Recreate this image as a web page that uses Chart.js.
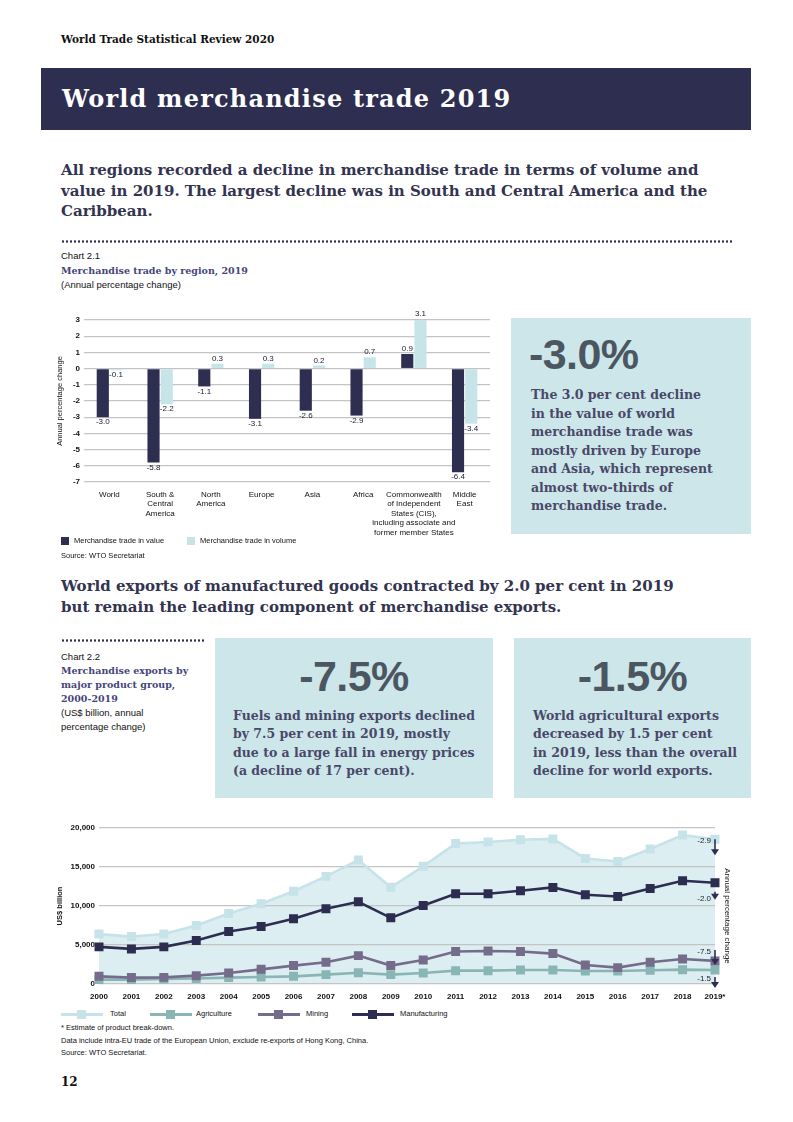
<!DOCTYPE html>
<html>
<head>
<meta charset="utf-8">
<script src="https://cdn.jsdelivr.net/npm/chart.js@4.4.1/dist/chart.umd.min.js"></script>
<style>
  body { margin: 0; width: 793px; height: 1122px; position: relative; background: #fff;
         font-family: "Liberation Sans", Arial, sans-serif; color: #111; overflow: hidden; }
  .abs { position: absolute; white-space: nowrap; }
  .slab { font-family: "DejaVu Serif", serif; font-weight: bold; }
  .dots { position: absolute; height: 3px;
          background-image: radial-gradient(circle, #2d2e50 1px, transparent 1.3px);
          background-size: 4px 3px; }
  .box { position: absolute; background: #cce6ea; }
  .big { position: absolute; font-family: "Liberation Sans", Arial, sans-serif; font-weight: bold;
         font-size: 43px; color: #4c5661; letter-spacing: -0.6px; line-height: 44px; }
  .body { position: absolute; white-space: nowrap; font-family: "DejaVu Serif", serif; font-weight: bold;
          color: #4a4868; font-size: 12.5px; line-height: 18.5px; }
  .small { font-size: 7.5px; line-height: 12.5px; color: #111; }
  .sq { position: absolute; width: 8px; height: 8px; }
  .lg { position: absolute; height: 3px; width: 42px; }
  .lg i { position: absolute; left: 16px; top: -3px; width: 9px; height: 9px; }
</style>
</head>
<body>

<div class="abs slab" style="left:61px; top:32px; font-size:10.5px; line-height:14px; color:#111;">World Trade Statistical Review 2020</div>

<div class="abs" style="left:41px; top:68px; width:710px; height:62px; background:#2d2e50;"></div>
<div class="abs slab" style="left:62px; top:68px; height:62px; line-height:62px; font-size:24px; letter-spacing:1.2px; color:#fff;">World merchandise trade 2019</div>

<div class="abs slab" style="left:61px; top:160px; font-size:15px; line-height:20.5px; color:#33344f;">All regions recorded a decline in merchandise trade in terms of volume and<br>value in 2019. The largest decline was in South and Central America and the<br>Caribbean.</div>

<div class="dots" style="left:61px; top:240px; width:673px;"></div>

<div class="abs" style="left:61px; top:249px; font-size:9.5px; line-height:14.5px;">Chart 2.1<br><span class="slab" style="font-size:9.5px; color:#45457a;">Merchandise trade by region, 2019</span><br>(Annual percentage change)</div>

<div class="abs" style="left:55px; top:305px; width:445px; height:240px;"><canvas id="barChart"></canvas></div>

<div class="sq" style="left:61px; top:537px; background:#2d2e50;"></div>
<div class="abs small" style="left:74px; top:535px;">Merchandise trade in value</div>
<div class="sq" style="left:187px; top:537px; background:#c7e5e9;"></div>
<div class="abs small" style="left:200px; top:535px;">Merchandise trade in volume</div>
<div class="abs small" style="left:61px; top:550px;">Source: WTO Secretariat</div>

<div class="box" style="left:511px; top:318px; width:240px; height:216px;"></div>
<div class="big" style="left:529px; top:332px;">-3.0%</div>
<div class="body" style="left:531px; top:386px;">The 3.0 per cent decline<br>in the value of world<br>merchandise trade was<br>mostly driven by Europe<br>and Asia, which represent<br>almost two-thirds of<br>merchandise trade.</div>

<div class="abs slab" style="left:61px; top:575.5px; font-size:15px; line-height:21px; color:#33344f;">World exports of manufactured goods contracted by 2.0 per cent in 2019<br>but remain the leading component of merchandise exports.</div>

<div class="dots" style="left:61px; top:639px; width:145px;"></div>
<div class="abs" style="left:61px; top:650px; font-size:9.5px; line-height:14px;">Chart 2.2<br><span class="slab" style="font-size:9.5px; color:#45457a;">Merchandise exports by<br>major product group,<br>2000-2019</span><br>(US$ billion, annual<br>percentage change)</div>

<div class="box" style="left:215px; top:638px; width:278px; height:160px;"></div>
<div class="big" style="left:215px; top:654px; width:278px; text-align:center;">-7.5%</div>
<div class="body" style="left:233px; top:707px; line-height:18.3px;">Fuels and mining exports declined<br>by 7.5 per cent in 2019, mostly<br>due to a large fall in energy prices<br>(a decline of 17 per cent).</div>

<div class="box" style="left:514px; top:638px; width:237px; height:160px;"></div>
<div class="big" style="left:514px; top:654px; width:237px; text-align:center;">-1.5%</div>
<div class="body" style="left:533px; top:707px; line-height:18.3px;">World agricultural exports<br>decreased by 1.5 per cent<br>in 2019, less than the overall<br>decline for world exports.</div>

<div class="abs" style="left:55px; top:815px; width:700px; height:192px;"><canvas id="lineChart"></canvas></div>

<div class="lg" style="left:61px; top:1013px; background:#c5e3e8;"><i style="background:#c5e3e8;"></i></div>
<div class="abs small" style="left:110px; top:1008px;">Total</div>
<div class="lg" style="left:150px; top:1013px; background:#8ab5b5;"><i style="background:#8ab5b5;"></i></div>
<div class="abs small" style="left:196px; top:1008px;">Agriculture</div>
<div class="lg" style="left:258px; top:1013px; background:#756c8c;"><i style="background:#756c8c;"></i></div>
<div class="abs small" style="left:306px; top:1008px;">Mining</div>
<div class="lg" style="left:352px; top:1013px; background:#2c2d50;"><i style="background:#2c2d50;"></i></div>
<div class="abs small" style="left:400px; top:1008px;">Manufacturing</div>

<div class="abs small" style="left:61px; top:1022px;">* Estimate of product break-down.<br>Data include intra-EU trade of the European Union, exclude re-exports of Hong Kong, China.<br>Source: WTO Secretariat.</div>

<div class="abs slab" style="left:61px; top:1074px; font-size:12px; line-height:16px; color:#111;">12</div>

<script>
// Chart 2.1 - merchandise trade by region, 2019 (annual % change)
const regions = [
  ['World'],
  ['South &', 'Central', 'America'],
  ['North', 'America'],
  ['Europe'],
  ['Asia'],
  ['Africa'],
  ['Commonwealth', 'of Independent', 'States (CIS),', 'including associate and', 'former member States'],
  ['Middle', 'East']
];
const tradeValue = [-3.0, -5.8, -1.1, -3.1, -2.6, -2.9, 0.9, -6.4];
const tradeVolume = [-0.1, -2.2, 0.3, 0.3, 0.2, 0.7, 3.1, -3.4];

// Chart 2.2 - merchandise exports by product group (US$ billion)
const years = ['2000', '2001', '2002', '2003', '2004', '2005', '2006', '2007', '2008', '2009',
               '2010', '2011', '2012', '2013', '2014', '2015', '2016', '2017', '2018', '2019*'];
const total = [6400, 6080, 6400, 7500, 9040, 10300, 11900, 13800, 15900, 12400,
               15100, 18000, 18200, 18500, 18600, 16100, 15700, 17300, 19100, 18550];
const agriculture = [560, 560, 640, 710, 820, 900, 980, 1200, 1450, 1200,
                     1410, 1710, 1710, 1800, 1800, 1670, 1670, 1760, 1840, 1800];
const mining = [980, 820, 850, 1070, 1410, 1880, 2360, 2790, 3640, 2360,
                3080, 4160, 4240, 4160, 3900, 2440, 2100, 2790, 3210, 2960];
const manufacturing = [4760, 4500, 4760, 5570, 6730, 7370, 8360, 9640, 10540, 8480,
                       10070, 11570, 11570, 11950, 12380, 11440, 11220, 12250, 13240, 12980];
// 2019 annual percentage change, same order as the datasets
const change2019 = [-2.9, -1.5, -7.5, -2.0];

const navy = '#2d2e50';

const barLabels = {
  id: 'barLabels',
  afterDatasetsDraw(chart) {
    const ctx = chart.ctx;
    ctx.save();
    ctx.font = '8px "Liberation Sans", Arial, sans-serif';
    ctx.fillStyle = '#1a1a2e';
    ctx.textAlign = 'center';
    ctx.textBaseline = 'middle';
    chart.data.datasets.forEach((ds, i) => {
      chart.getDatasetMeta(i).data.forEach((bar, j) => {
        const v = ds.data[j];
        const y = v < 0 ? bar.y + 5 : bar.y - 5;
        ctx.fillText(v.toFixed(1), bar.x, y);
      });
    });
    ctx.restore();
  }
};

new Chart(document.getElementById('barChart'), {
  type: 'bar',
  data: {
    labels: regions,
    datasets: [
      { label: 'Merchandise trade in value', data: tradeValue, backgroundColor: navy },
      { label: 'Merchandise trade in volume', data: tradeVolume, backgroundColor: '#c7e5e9' }
    ]
  },
  options: {
    responsive: true,
    maintainAspectRatio: false,
    animation: false,
    categoryPercentage: 0.52,
    barPercentage: 0.92,
    layout: { padding: { top: 15, right: 10, left: 0, bottom: 0 } },
    plugins: { legend: { display: false }, tooltip: { enabled: false } },
    scales: {
      x: {
        grid: { display: false },
        border: { display: false },
        ticks: {
          color: '#111', font: { size: 8, lineHeight: 1.18 }, maxRotation: 0, autoSkip: false, padding: 0
        },
        afterFit(scale) { scale.height = 63; }
      },
      y: {
        min: -7, max: 3,
        ticks: { stepSize: 1, color: '#111', font: { size: 8, weight: 'bold' }, padding: 4 },
        grid: { color: '#c4c4c4', lineWidth: 1.3, drawTicks: false },
        border: { display: false },
        title: { display: true, text: 'Annual percentage change', color: '#111',
                 font: { size: 7.5 }, padding: { top: 0, bottom: 2 } },
        afterFit(scale) { scale.width = 29; }
      }
    }
  },
  plugins: [barLabels]
});

// small arrows with the 2019 change at the right end of each line
const arrowShift = [
  { a: 0, b: 16, t: 1 },    // Total
  { a: 7, b: 18, t: 9 },    // Agriculture
  { a: -11, b: 4, t: -9 },  // Mining
  { a: 9, b: 17, t: 16 }    // Manufacturing
];

const endArrows = {
  id: 'endArrows',
  afterDatasetsDraw(chart) {
    const ctx = chart.ctx;
    const area = chart.chartArea;
    const x = area.right;
    ctx.save();
    ctx.font = '8px "Liberation Sans", Arial, sans-serif';
    ctx.textAlign = 'right';
    ctx.textBaseline = 'middle';
    chart.data.datasets.forEach((ds, i) => {
      const pts = chart.getDatasetMeta(i).data;
      const py = pts[pts.length - 1].y;
      const s = arrowShift[i];
      ctx.strokeStyle = navy;
      ctx.fillStyle = navy;
      ctx.lineWidth = 1.6;
      ctx.beginPath();
      ctx.moveTo(x, py + s.a);
      ctx.lineTo(x, py + s.b - 5);
      ctx.stroke();
      ctx.beginPath();
      ctx.moveTo(x - 4, py + s.b - 6);
      ctx.lineTo(x + 4, py + s.b - 6);
      ctx.lineTo(x, py + s.b);
      ctx.closePath();
      ctx.fill();
      ctx.fillStyle = '#1a1a2e';
      ctx.fillText(change2019[i].toFixed(1), x - 4, py + s.t);
    });
    ctx.translate(x + 12, (area.top + area.bottom) / 2 + 10);
    ctx.rotate(Math.PI / 2);
    ctx.textAlign = 'center';
    ctx.fillStyle = '#111';
    ctx.fillText('Annual percentage change', 0, 0);
    ctx.restore();
  }
};

function lineSet(label, data, color, order, fill) {
  return {
    label, data, order,
    borderColor: color,
    backgroundColor: fill || color,
    pointBackgroundColor: color,
    pointBorderColor: color,
    pointStyle: 'rect',
    pointRadius: 4.5,
    borderWidth: 2.6,
    fill: fill ? 'origin' : false,
    tension: 0
  };
}

new Chart(document.getElementById('lineChart'), {
  type: 'line',
  data: {
    labels: years,
    datasets: [
      lineSet('Total', total, '#c5e3e8', 4, '#ddeef2'),
      lineSet('Agriculture', agriculture, '#8ab5b5', 3),
      lineSet('Mining', mining, '#756c8c', 2),
      lineSet('Manufacturing', manufacturing, '#2c2d50', 1)
    ]
  },
  options: {
    responsive: true,
    maintainAspectRatio: false,
    animation: false,
    layout: { padding: { top: 13, right: 40, left: 0, bottom: 0 } },
    plugins: {
      legend: { display: false },
      tooltip: { enabled: false },
      filler: { drawTime: 'beforeDraw' }
    },
    scales: {
      x: {
        offset: false,
        grid: { display: false },
        border: { display: false },
        ticks: { color: '#111', font: { size: 8, weight: 'bold' }, maxRotation: 0, autoSkip: false, padding: 0 },
        afterFit(scale) { scale.height = 23; }
      },
      y: {
        min: 0, max: 20000,
        ticks: { stepSize: 5000, color: '#111', font: { size: 8, weight: 'bold' }, padding: 4,
                 callback: v => v.toLocaleString('en-US') },
        grid: { color: '#c4c4c4', lineWidth: 1.3, drawTicks: false },
        border: { display: false },
        title: { display: true, text: 'US$ billion', color: '#111',
                 font: { size: 7.5, weight: 'bold' }, padding: { top: 0, bottom: 2 } },
        afterFit(scale) { scale.width = 44; }
      }
    }
  },
  plugins: [endArrows]
});
</script>
</body>
</html>
